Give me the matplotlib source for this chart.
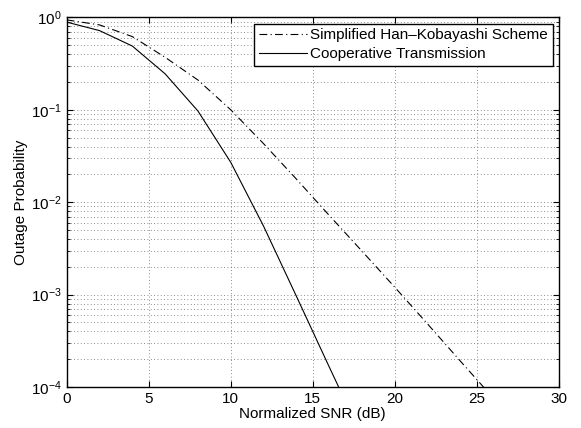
import matplotlib
matplotlib.use('Agg')
import matplotlib.pyplot as plt
from matplotlib.ticker import LogLocator, MultipleLocator, NullFormatter

plt.rcParams['font.family'] = ['Liberation Sans', 'DejaVu Sans']
plt.rcParams['mathtext.fontset'] = 'custom'
plt.rcParams['mathtext.rm'] = 'Liberation Sans'
plt.rcParams['mathtext.it'] = 'Liberation Sans:italic'

# values
snr_hk = [0, 2, 4, 6, 8, 10, 12, 14, 16, 18, 20, 22, 24, 26]
pout_hk = [0.94, 0.83, 0.62, 0.37, 0.21, 0.10, 0.043, 0.0178, 7.2e-3,
           2.95e-3, 1.2e-3, 4.8e-4, 1.9e-4, 7.6e-5]

snr_ct = [0, 2, 4, 6, 8, 10, 12, 14, 16, 18]
pout_ct = [0.89, 0.72, 0.49, 0.245, 0.097, 0.027, 5.5e-3, 9.6e-4,
           1.65e-4, 2.9e-5]

fig = plt.figure(figsize=(5.81, 4.28), dpi=100)
ax = fig.add_axes([0.1148, 0.0958, 0.8472, 0.8635])

ax.semilogy(snr_hk, pout_hk, color='black', lw=0.8, linestyle=(0, (7, 3, 1, 3)),
            label='Simplified Han\u2013Kobayashi Scheme')
ax.semilogy(snr_ct, pout_ct, color='black', lw=0.8, linestyle='-',
            label='Cooperative Transmission')

ax.set_xlim(0, 30)
ax.set_ylim(1e-4, 1)
ax.xaxis.set_major_locator(MultipleLocator(5))
ax.yaxis.set_major_locator(LogLocator(base=10, numticks=10))
ax.yaxis.set_minor_locator(LogLocator(base=10, subs=range(2, 10), numticks=10))
ax.yaxis.set_minor_formatter(NullFormatter())

ax.grid(True, which='major', linestyle=(0, (1, 3)), color='#666666', lw=0.6)
ax.grid(True, which='minor', axis='y', linestyle=(0, (1, 3)), color='#666666', lw=0.6)

ax.tick_params(which='both', direction='in', top=True, right=True, labelsize=11)
ax.tick_params(which='major', length=4, width=0.8)
ax.tick_params(which='minor', length=2, width=0.6)
for s in ax.spines.values():
    s.set_linewidth(1.0)

ax.set_xlabel('Normalized SNR (dB)', fontsize=11, labelpad=1)
ax.set_ylabel('Outage Probability', fontsize=11, labelpad=2)

leg = ax.legend(loc='upper right', fontsize=11, fancybox=False, framealpha=1,
                edgecolor='black', borderpad=0.3, labelspacing=0.35,
                handlelength=3.2, handletextpad=0.2, borderaxespad=0.4)
leg.get_frame().set_linewidth(1.0)

fig.savefig('out.png', dpi=100)
